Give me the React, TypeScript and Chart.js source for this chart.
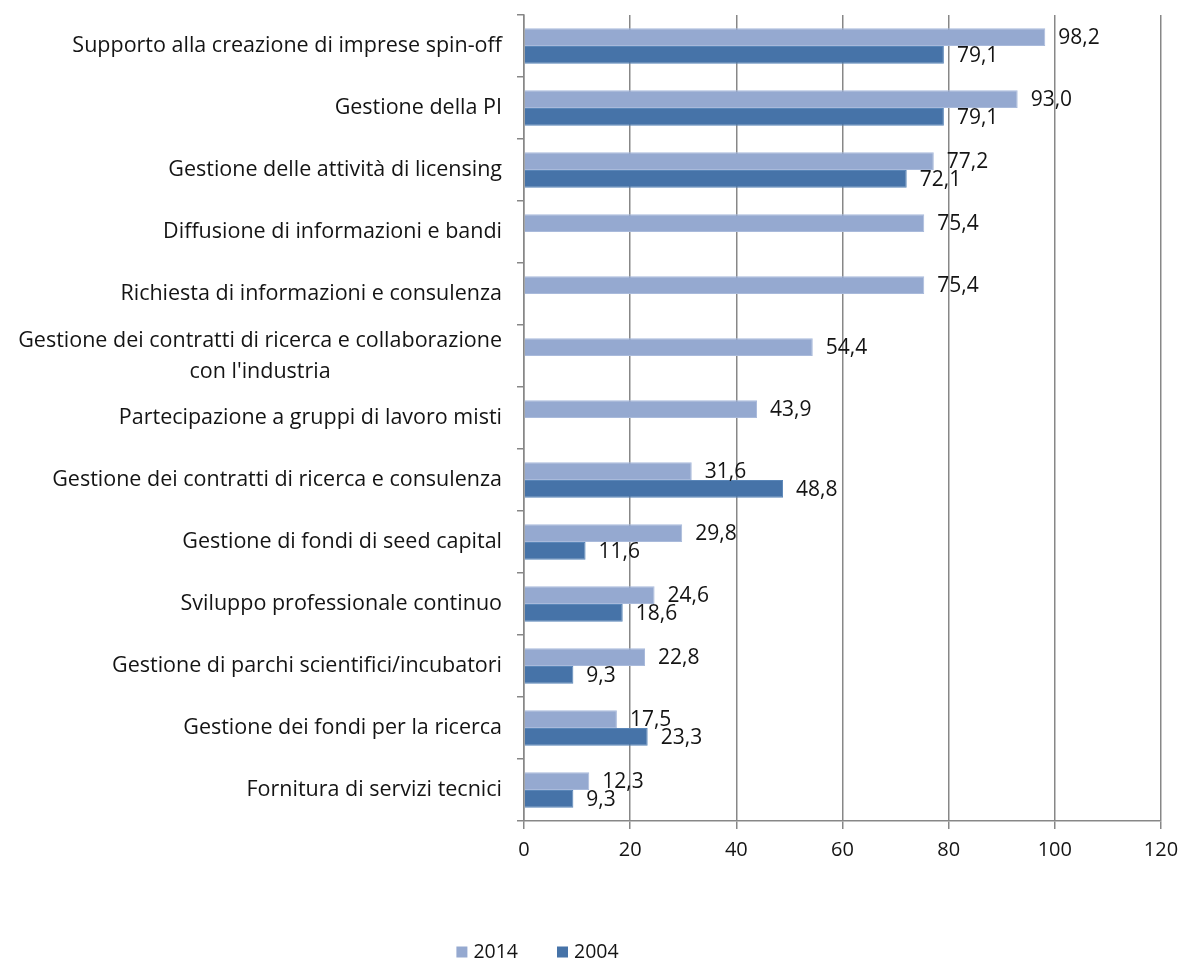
import React, { useEffect, useRef } from 'react';
import { Chart, registerables } from 'chart.js';

Chart.register(...registerables);

const categories: string[] = [
  'Supporto alla creazione di imprese spin-off',
  'Gestione della PI',
  'Gestione delle attività di licensing',
  'Diffusione di informazioni e bandi',
  'Richiesta di informazioni e consulenza',
  "Gestione dei contratti di ricerca e collaborazione\ncon l'industria",
  'Partecipazione a gruppi di lavoro misti',
  'Gestione dei contratti di ricerca e consulenza',
  'Gestione di fondi di seed capital',
  'Sviluppo professionale continuo',
  'Gestione di parchi scientifici/incubatori',
  'Gestione dei fondi per la ricerca',
  'Fornitura di servizi tecnici',
];

const values2014: (number | null)[] = [98.2, 93.0, 77.2, 75.4, 75.4, 54.4, 43.9, 31.6, 29.8, 24.6, 22.8, 17.5, 12.3];
const values2004: (number | null)[] = [79.1, 79.1, 72.1, null, null, null, null, 48.8, 11.6, 18.6, 9.3, 23.3, 9.3];

const seriesNames = ['2014', '2004'];
const xTicks = [0, 20, 40, 60, 80, 100, 120];

const FONT_FAMILY = '"Open Sans", "Noto Sans", sans-serif';
const LABEL_SIZE = 21.5;
const VALUE_SIZE = 21;
const TICK_SIZE = 20;
const LEGEND_SIZE = 19.5;
const TEXT_COLOR = '#141414';
const AXIS_COLOR = '#878787';
const LIGHT = '#95a9d0';
const DARK = '#4673a8';

const fmt = (v: number) => v.toFixed(1).replace('.', ',');

const categoryLabelPlugin = {
  id: 'categoryLabels',
  afterDraw(chart: any) {
    const { ctx, chartArea } = chart;
    const y = chart.scales.y;
    ctx.save();
    ctx.font = `${LABEL_SIZE}px ${FONT_FAMILY}`;
    ctx.fillStyle = TEXT_COLOR;
    ctx.textBaseline = 'middle';
    const right = chartArea.left - 22;
    const lh = 31;
    categories.forEach((c, i) => {
      const lines = c.split('\n');
      const yc = y.getPixelForValue(i);
      const maxW = Math.max(...lines.map((l) => ctx.measureText(l).width));
      lines.forEach((l, j) => {
        const yy = yc + (j - (lines.length - 1) / 2) * lh;
        if (lines.length > 1) {
          ctx.textAlign = 'center';
          ctx.fillText(l, right - maxW / 2, yy);
        } else {
          ctx.textAlign = 'right';
          ctx.fillText(l, right, yy);
        }
      });
    });
    ctx.restore();
  },
};

const valueLabelPlugin = {
  id: 'valueLabels',
  afterDatasetsDraw(chart: any) {
    const { ctx } = chart;
    ctx.save();
    ctx.font = `${VALUE_SIZE}px ${FONT_FAMILY}`;
    ctx.fillStyle = TEXT_COLOR;
    ctx.textBaseline = 'middle';
    ctx.textAlign = 'left';
    chart.data.datasets.forEach((ds: any, di: number) => {
      const meta = chart.getDatasetMeta(di);
      meta.data.forEach((el: any, i: number) => {
        const v = ds.data[i];
        if (v === null || v === undefined) return;
        ctx.fillText(fmt(v), el.x + 13, el.y + 1);
      });
    });
    ctx.restore();
  },
};

const legendPlugin = {
  id: 'customLegend',
  afterDraw(chart: any) {
    const { ctx } = chart;
    ctx.save();
    ctx.font = `${LEGEND_SIZE}px ${FONT_FAMILY}`;
    ctx.textBaseline = 'middle';
    ctx.textAlign = 'left';
    const box = 11;
    const gap = 6;
    const spacing = 39;
    const items = chart.data.datasets.map((ds: any) => ({
      label: ds.label,
      color: ds.backgroundColor,
      w: ctx.measureText(ds.label).width,
    }));
    const total = items.reduce((s: number, it: any) => s + box + gap + it.w, 0) + spacing * (items.length - 1);
    const cy = 952;
    let x = 537.5 - total / 2;
    items.forEach((it: any) => {
      ctx.fillStyle = it.color;
      ctx.fillRect(x, cy - box / 2, box, box);
      x += box + gap;
      ctx.fillStyle = TEXT_COLOR;
      ctx.fillText(it.label, x, cy);
      x += it.w + spacing;
    });
    ctx.restore();
  },
};

export default function App() {
  const ref = useRef<HTMLCanvasElement>(null);

  useEffect(() => {
    if (!ref.current) return;
    const chart = new Chart(ref.current, {
      type: 'bar',
      data: {
        labels: categories,
        datasets: [
          {
            label: seriesNames[0],
            data: values2014,
            backgroundColor: LIGHT,
            borderColor: '#a9badb',
            borderWidth: 1,
            categoryPercentage: 0.57,
            barPercentage: 1,
          },
          {
            label: seriesNames[1],
            data: values2004,
            backgroundColor: DARK,
            borderColor: '#5a86b8',
            borderWidth: 1,
            categoryPercentage: 0.57,
            barPercentage: 1,
          },
        ],
      },
      options: {
        indexAxis: 'y',
        animation: false,
        responsive: false,
        maintainAspectRatio: false,
        layout: { padding: { top: 15, right: 22, bottom: 99, left: 0 } },
        plugins: {
          legend: { display: false },
          tooltip: { enabled: false },
        },
        scales: {
          x: {
            min: xTicks[0],
            max: xTicks[xTicks.length - 1],
            afterBuildTicks: (scale: any) => {
              scale.ticks = xTicks.map((v) => ({ value: v }));
            },
            afterFit: (scale: any) => {
              scale.height = 40;
              scale.paddingRight = 0;
              scale.paddingLeft = 0;
            },
            ticks: {
              color: TEXT_COLOR,
              font: { family: FONT_FAMILY, size: TICK_SIZE },
              padding: 9,
            },
            grid: { color: AXIS_COLOR, lineWidth: 1.5, tickLength: 8 },
            border: { color: AXIS_COLOR, width: 1.5 },
          },
          y: {
            type: 'category',
            afterFit: (scale: any) => {
              scale.width = 524;
              scale.paddingTop = 0;
              scale.paddingBottom = 0;
            },
            ticks: { display: false },
            grid: {
              drawOnChartArea: false,
              offset: true,
              tickLength: 7,
              color: AXIS_COLOR,
              lineWidth: 1.5,
            },
            border: { color: AXIS_COLOR, width: 1.5 },
          },
        },
      },
      plugins: [categoryLabelPlugin, valueLabelPlugin, legendPlugin],
    } as any);
    return () => chart.destroy();
  }, []);

  return (
    <div style={{ position: 'fixed', left: 0, top: 0, width: 1183, height: 960, background: '#fff' }}>
      <canvas ref={ref} width={1183} height={960} style={{ width: 1183, height: 960 }} />
    </div>
  );
}
